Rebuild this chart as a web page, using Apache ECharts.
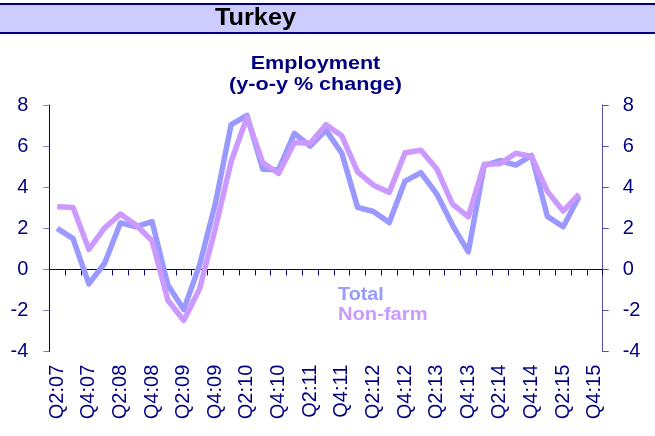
<!DOCTYPE html>
<html>
<head>
<meta charset="utf-8">
<script src="https://cdn.jsdelivr.net/npm/echarts@6/dist/echarts.min.js"></script>
<style>
html,body{margin:0;padding:0;background:#fff;}
#chart{width:655px;height:436px;}
</style>
</head>
<body>
<div id="chart"></div>
<script>
var categories = ['Q2:07','Q3:07','Q4:07','Q1:08','Q2:08','Q3:08','Q4:08','Q1:09','Q2:09','Q3:09',
  'Q4:09','Q1:10','Q2:10','Q3:10','Q4:10','Q1:11','Q2:11','Q3:11','Q4:11','Q1:12',
  'Q2:12','Q3:12','Q4:12','Q1:13','Q2:13','Q3:13','Q4:13','Q1:14','Q2:14','Q3:14',
  'Q4:14','Q1:15','Q2:15','Q3:15','Q4:15'];
var totalValues = [2.0, 1.5, -0.7, 0.3, 2.27, 2.08, 2.33, -0.76, -1.95, 0.2,
  3.2, 7.05, 7.5, 4.87, 4.85, 6.62, 6.0, 6.78, 5.65, 3.02,
  2.82, 2.28, 4.3, 4.71, 3.68, 2.16, 0.86, 5.05, 5.3, 5.08,
  5.55, 2.58, 2.08, 3.54];
var nonFarmValues = [3.05, 3.02, 0.98, 2.02, 2.7, 2.15, 1.4, -1.5, -2.48, -0.95,
  2.0, 5.25, 7.4, 5.2, 4.67, 6.18, 6.14, 7.04, 6.5, 4.75,
  4.1, 3.75, 5.68, 5.8, 4.9, 3.18, 2.56, 5.12, 5.14, 5.65,
  5.5, 3.8, 2.84, 3.66];
var seriesNames = ['Total', 'Non-farm'];
var yMin = -4, yMax = 8, yStep = 2;

var NAVY = '#000080';
var FONT = '"Liberation Sans", Arial, sans-serif';
var chart = echarts.init(document.getElementById('chart'), null, {renderer: 'canvas'});

var yCommon = {
  type: 'value', min: yMin, max: yMax, interval: yStep,
  splitLine: {show: false},
  axisLabel: {color: NAVY, fontSize: 20, fontFamily: FONT}
};

chart.setOption({
  animation: false,
  backgroundColor: '#ffffff',
  grid: {left: 49.3, right: 52.3, top: 105, bottom: 84.3, containLabel: false},
  xAxis: [
    {
      type: 'category', data: categories, boundaryGap: true,
      axisLine: {onZero: true, lineStyle: {color: NAVY, width: 1}},
      axisTick: {show: true, interval: 0, length: 6, lineStyle: {color: NAVY}},
      axisLabel: {show: false},
      splitLine: {show: false}
    },
    {
      type: 'category', data: categories, boundaryGap: true, position: 'bottom',
      axisLine: {show: false, onZero: false},
      axisTick: {show: false},
      axisLabel: {show: true, interval: 1, rotate: 90, margin: 13, color: NAVY, fontSize: 20, fontFamily: FONT},
      splitLine: {show: false}
    }
  ],
  yAxis: [
    Object.assign({}, yCommon, {
      position: 'left',
      axisLine: {show: true, lineStyle: {color: NAVY, width: 1}},
      axisTick: {show: true, length: 6, lineStyle: {color: '#8080C0'}},
      axisLabel: Object.assign({}, yCommon.axisLabel, {margin: 21})
    }),
    Object.assign({}, yCommon, {
      position: 'right',
      axisLine: {show: true, lineStyle: {color: '#5050B0', width: 1}},
      axisTick: {show: true, length: 6, lineStyle: {color: '#5050B0'}},
      axisLabel: Object.assign({}, yCommon.axisLabel, {margin: 20})
    })
  ],
  series: [
    {
      name: seriesNames[0], type: 'line', data: totalValues,
      xAxisIndex: 0, yAxisIndex: 0,
      symbol: 'none', smooth: false,
      lineStyle: {color: '#9999FF', width: 5.5, join: 'round'},
      itemStyle: {color: '#9999FF'},
      z: 2
    },
    {
      name: seriesNames[1], type: 'line', data: nonFarmValues,
      xAxisIndex: 0, yAxisIndex: 0,
      symbol: 'none', smooth: false,
      lineStyle: {color: '#CC99FF', width: 5.5, join: 'round'},
      itemStyle: {color: '#CC99FF'},
      z: 3
    }
  ],
  graphic: [
    {type: 'rect', shape: {x: 0, y: 4, width: 655, height: 29}, style: {fill: '#CCCCFF'}, z: 0},
    {type: 'line', shape: {x1: 0, y1: 4, x2: 655, y2: 4}, style: {stroke: NAVY, lineWidth: 2}, z: 1},
    {type: 'line', shape: {x1: 0, y1: 33, x2: 655, y2: 33}, style: {stroke: NAVY, lineWidth: 2}, z: 1},
    {type: 'text', x: 255.5, y: 18.5, scaleX: 1.1, z: 2,
      style: {text: 'Turkey', x: 0, y: 0, textAlign: 'center', textVerticalAlign: 'middle',
        fill: '#000000', font: 'bold 23px ' + FONT}},
    {type: 'text', x: 315.5, y: 64.5, scaleX: 1.2, z: 2,
      style: {text: 'Employment', x: 0, y: 0, textAlign: 'center', textVerticalAlign: 'middle',
        fill: NAVY, font: 'bold 18px ' + FONT}},
    {type: 'text', x: 315.5, y: 85.5, scaleX: 1.2, z: 2,
      style: {text: '(y-o-y % change)', x: 0, y: 0, textAlign: 'center', textVerticalAlign: 'middle',
        fill: NAVY, font: 'bold 18px ' + FONT}},
    {type: 'text', x: 338, y: 295, scaleX: 1.1, z: 5,
      style: {text: seriesNames[0], x: 0, y: 0, textAlign: 'left', textVerticalAlign: 'middle',
        fill: '#9999FF', font: 'bold 18px ' + FONT}},
    {type: 'text', x: 338, y: 315.5, scaleX: 1.12, z: 5,
      style: {text: seriesNames[1], x: 0, y: 0, textAlign: 'left', textVerticalAlign: 'middle',
        fill: '#CC99FF', font: 'bold 18px ' + FONT}}
  ]
});
</script>
</body>
</html>
